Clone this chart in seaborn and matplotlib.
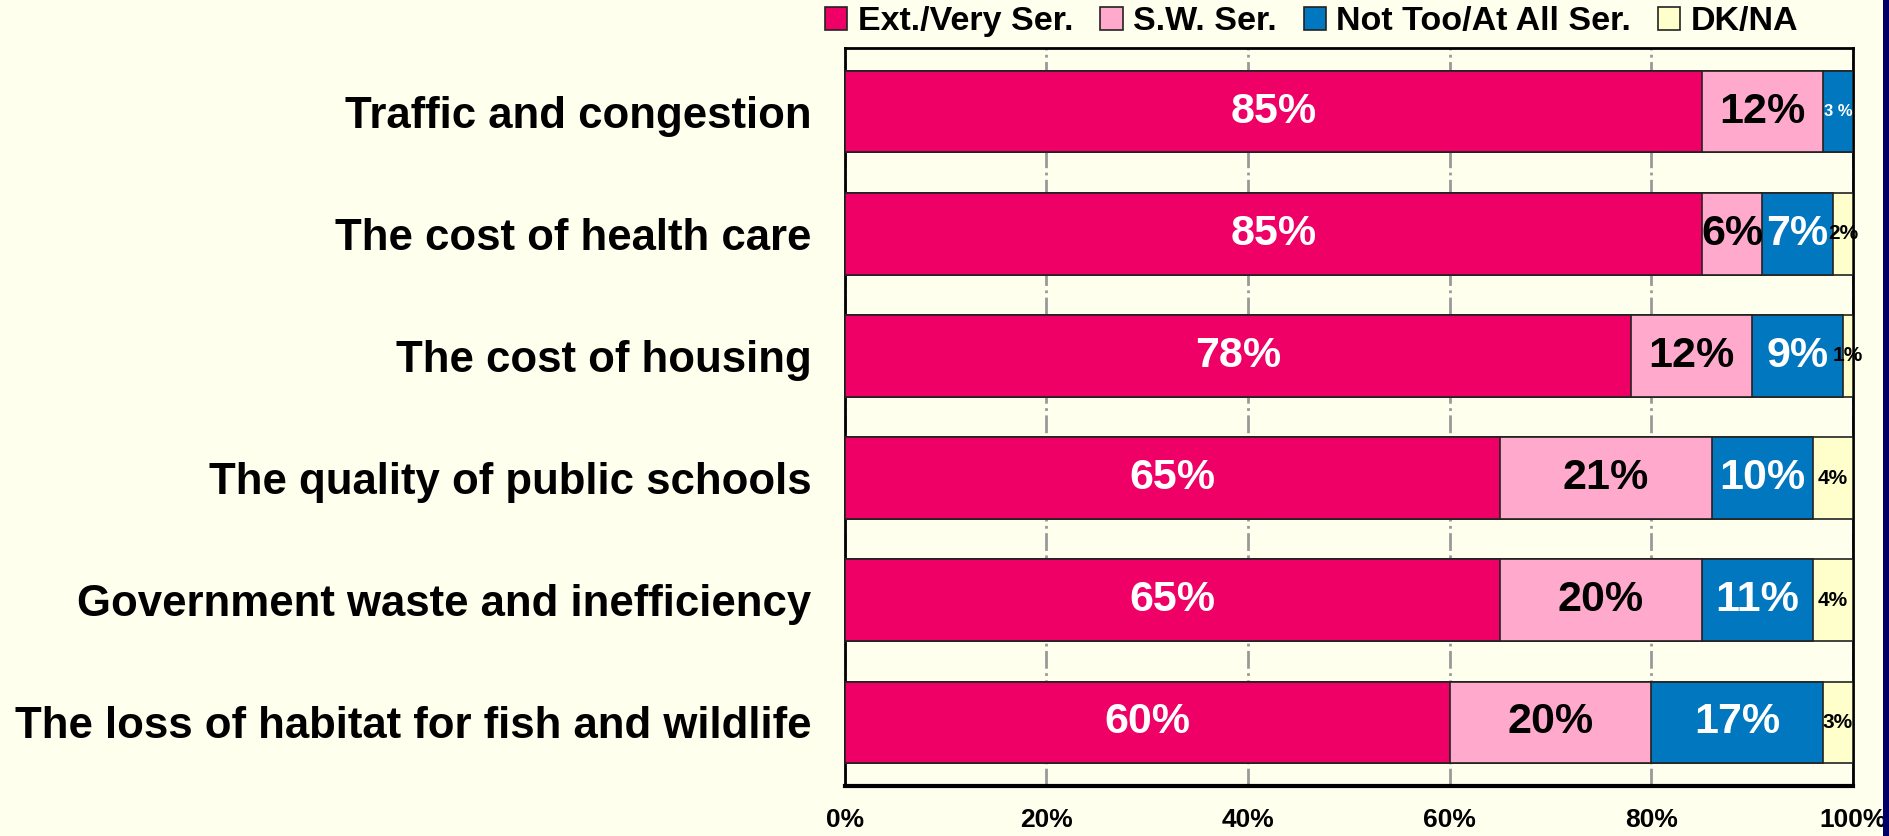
import pandas as pd
import numpy as np
import matplotlib
matplotlib.use("Agg")
import matplotlib.pyplot as plt
from matplotlib.patches import Patch, Rectangle
import seaborn as sns

# ---------------------------
# Data
# ---------------------------
issues = [
    "Traffic and congestion",
    "The cost of health care",
    "The cost of housing",
    "The quality of public schools",
    "Government waste and inefficiency",
    "The loss of habitat for fish and wildlife",
]
very_serious = [85, 85, 78, 65, 65, 60]
somewhat_serious = [12, 6, 12, 21, 20, 20]
not_serious = [3, 7, 9, 10, 11, 17]
dk_na = [0, 2, 1, 4, 4, 3]

series_names = ["Ext./Very Ser.", "S.W. Ser.", "Not Too/At All Ser.", "DK/NA"]
colors = ["#EE0066", "#FFAACC", "#0077BF", "#FFFFCC"]
text_colors = ["white", "black", "white", "black"]
tick_labels = ["0%", "20%", "40%", "60%", "80%", "100%"]

bg = "#FFFFEE"

df = pd.DataFrame({
    "issue": issues,
    series_names[0]: very_serious,
    series_names[1]: somewhat_serious,
    series_names[2]: not_serious,
    series_names[3]: dk_na,
})
cum = df[series_names].cumsum(axis=1)

# ---------------------------
# Plot
# ---------------------------
sns.set_style("white")
plt.rcParams["font.family"] = ["Liberation Sans", "DejaVu Sans"]
plt.rcParams["font.weight"] = "bold"
plt.rcParams["text.color"] = "black"
plt.rcParams["xtick.color"] = "black"
plt.rcParams["ytick.color"] = "black"

fig = plt.figure(figsize=(18.9, 8.36), dpi=100, facecolor=bg)
ax = fig.add_axes([0.447, 0.0598, 0.5334, 0.8828])
ax.set_facecolor(bg)

# stacked bars: draw the cumulative totals from the back to the front
for name, col in reversed(list(zip(series_names, colors))):
    sns.barplot(x=cum[name], y=df["issue"], orient="h", color=col,
                width=0.67, edgecolor="#222222", linewidth=1.2,
                saturation=1, ax=ax, zorder=3)

# value labels
for i in range(len(issues)):
    left = 0
    for j, name in enumerate(series_names):
        v = df[name][i]
        if v > 0:
            if v >= 5:
                fs = 31
                txt = f"{v}%"
            elif j == 2:
                fs = 12
                txt = f"{v} %"
            else:
                fs = 15
                txt = f"{v}%"
            ax.text(left + v / 2, i, txt, ha="center", va="center",
                    color=text_colors[j], fontsize=fs, fontweight="bold", zorder=5)
        left += v

ax.set_xlim(0, 100)
ax.set_ylim(5.52, -0.52)
ax.set_xticks(np.arange(0, 101, 20))
ax.set_xticklabels(tick_labels, fontsize=19, fontweight="bold", color="black")
ax.tick_params(axis="x", direction="out", length=10, width=1.5, color="black", pad=6)
ax.tick_params(axis="y", length=0, pad=24)
for lab in ax.get_yticklabels():
    lab.set_fontsize(31.5)
    lab.set_fontweight("bold")
    lab.set_color("black")
ax.set_xlabel("")
ax.set_ylabel("")

ax.xaxis.grid(True, color="#999999", linestyle="-.", linewidth=2, zorder=0)
ax.set_axisbelow(True)

for side in ["left", "top", "right"]:
    ax.spines[side].set_color("black")
    ax.spines[side].set_linewidth(2)
ax.spines["bottom"].set_color("black")
ax.spines["bottom"].set_linewidth(3)

handles = [Patch(facecolor=c, edgecolor="#222222", linewidth=1.2) for c in colors]
fig.legend(handles, series_names, loc="center", bbox_to_anchor=(0.694, 0.974),
           ncol=4, frameon=False, handlelength=0.65, handleheight=0.65,
           handletextpad=0.3, columnspacing=0.8, prop={"weight": "bold", "size": 24.5})

# dark strip at right edge
fig.patches.append(Rectangle((0.9963, 0), 0.0037, 1, transform=fig.transFigure,
                             facecolor="#000066", edgecolor="none", zorder=10))

fig.savefig("out.png", dpi=100, facecolor=bg)
